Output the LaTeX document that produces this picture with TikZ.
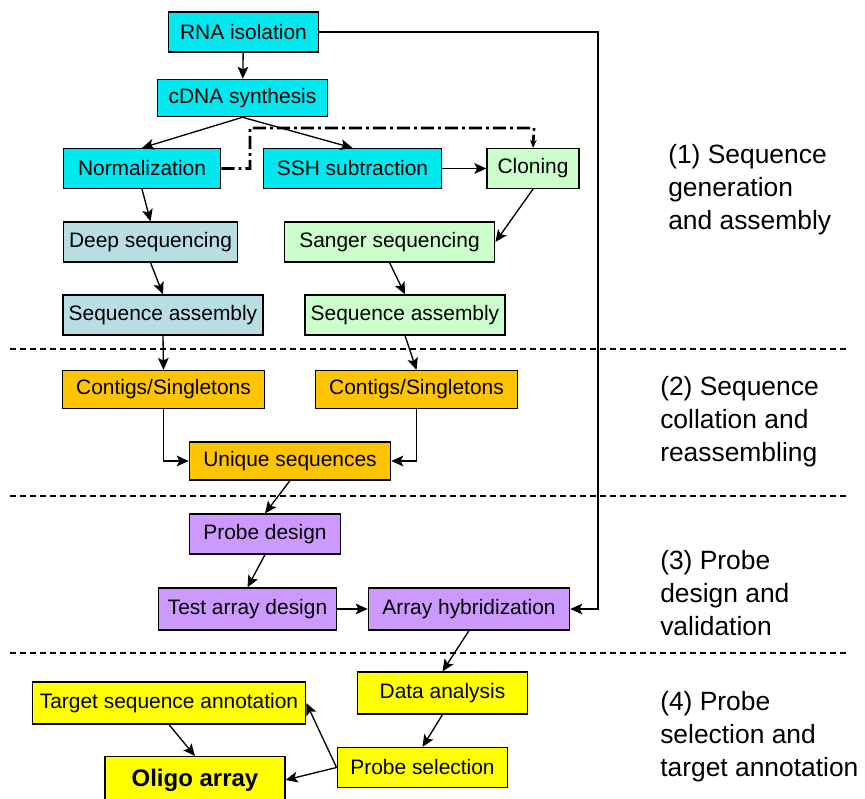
\documentclass[tikz,border=0pt]{standalone}
\usepackage{fontspec}
\setmainfont{Liberation Sans}
\usetikzlibrary{arrows.meta}

\definecolor{cyanbox}{HTML}{00E8F0}
\definecolor{greybox}{HTML}{B8DEE4}
\definecolor{greenbox}{HTML}{CCFFCC}
\definecolor{orangebox}{HTML}{FFC400}
\definecolor{purplebox}{HTML}{CC99FF}
\definecolor{yellowbox}{HTML}{FFFF00}

\tikzset{
	box/.style={draw, line width=0.9pt, inner sep=0pt, minimum height=30pt,
			font=\fontsize{15.7}{18}\selectfont},
	flow/.style={-{Stealth[length=9pt, width=8pt, inset=2pt]}, line width=1pt},
	stage/.style={anchor=west, align=left, inner sep=0pt,
			font=\fontsize{19.8}{24.8}\selectfont}
}

\begin{document}
\begin{tikzpicture}[x=0.75pt, y=-0.75pt]
		\useasboundingbox (0,0) rectangle (865,799);

		% Section separators
		\foreach \y in {349, 496, 653} {
				\draw[dash pattern=on 4.5pt off 3pt, line width=0.8pt] (10,\y) -- (848,\y);
			}

		% Stage 1: sequence generation
		\node[box, fill=cyanbox, minimum width=112pt] (rna) at (243.5,32) {RNA isolation};
		\node[box, fill=cyanbox, minimum width=127pt, minimum height=28pt] (cdna) at (242.5,98) {cDNA synthesis};
		\node[box, fill=cyanbox, minimum width=118pt] (norm) at (142,168.5) {Normalization};
		\node[box, fill=cyanbox, minimum width=134pt] (ssh) at (352.5,168.5) {SSH subtraction};
		\node[box, fill=greenbox, minimum width=69pt] (clon) at (533,168.5) {Cloning};
		\node[box, fill=greybox, minimum width=131pt] (deep) at (150.5,242) {Deep sequencing};
		\node[box, fill=greenbox, minimum width=158pt] (sang) at (389.5,242) {Sanger sequencing};
		\node[box, fill=greybox, minimum width=150pt] (asmL) at (163,315) {Sequence assembly};
		\node[box, fill=greenbox, minimum width=150pt] (asmR) at (405,315) {Sequence assembly};

		% Stage 2: collation
		\node[box, fill=orangebox, minimum width=151pt, minimum height=28.5pt] (conL) at (163.5,389.5) {Contigs/Singletons};
		\node[box, fill=orangebox, minimum width=151pt, minimum height=28.5pt] (conR) at (416.5,389.5) {Contigs/Singletons};
		\node[box, fill=orangebox, minimum width=151pt, minimum height=28.5pt] (uniq) at (290,461) {Unique sequences};

		% Stage 3: probe design
		\node[box, fill=purplebox, minimum width=113pt] (prob) at (265,534) {Probe design};
		\node[box, fill=purplebox, minimum width=134pt, minimum height=31.5pt] (test) at (247.5,609) {Test array design};
		\node[box, fill=purplebox, minimum width=151pt, minimum height=31.5pt] (hyb) at (469,609) {Array hybridization};

		% Stage 4: selection and annotation
		\node[box, fill=yellowbox, minimum width=127pt, minimum height=31.5pt] (data) at (442.5,693) {Data analysis};
		\node[box, fill=yellowbox, minimum width=205pt, minimum height=31.5pt] (targ) at (169,703) {Target sequence annotation};
		\node[box, fill=yellowbox, minimum width=128pt] (sel) at (422.5,767.5) {Probe selection};
		\node[box, fill=yellowbox, minimum width=135pt, minimum height=35pt,
			font=\fontsize{18}{21}\selectfont\bfseries] (olig) at (195,780) {Oligo array};

		% Stage labels
		\node[stage] (lab1) at (668,190) {(1) Sequence\\generation\\and assembly};
		\node[stage] (lab2) at (660,422) {(2) Sequence\\collation and\\reassembling};
		\node[stage] (lab3) at (660,593) {(3) Probe\\design and\\validation};
		\node[stage] (lab4) at (660,737) {(4) Probe\\selection and\\target annotation};

		% Connectors
		\draw[flow] (rna) -- (cdna);
		\draw[flow] (cdna.south) -- (norm.north);
		\draw[flow] (cdna.south) -- (ssh.north);
		\draw[flow] (ssh) -- (clon);
		\draw[flow] (norm.south) -- (deep.north);
		\draw[flow] (clon.south) -- (sang.east);
		\draw[flow] (deep.south) -- (asmL.north);
		\draw[flow] (sang.south) -- (asmR.north);
		\draw[flow] (asmL.south) -- (conL.north);
		\draw[flow] (asmR.south) -- (conR.north);
		\draw[flow] (conL.south) |- (uniq.west);
		\draw[flow] (conR.south) |- (uniq.east);
		\draw[flow] (uniq.south) -- (prob.north);
		\draw[flow] (prob.south) -- (test.north);
		\draw[flow] (test) -- (hyb);
		\draw[flow] (hyb.south) -- (data.north);
		\draw[flow] (data.south) -- (sel.north);
		\draw[flow] (sel.west) -- (targ.east);
		\draw[flow] (sel.west) -- (olig.east);
		\draw[flow] (targ.south) -- (olig.north);

		% RNA goes straight to hybridization
		\coordinate (turn) at (598,32);
		\draw[flow] (rna.east) -- (turn) |- (hyb.east);

		% Normalization feeding the cloning step
		\coordinate (dd1) at (250,168.5);
		\coordinate (dd2) at (250,128);
		\coordinate (dd3) at (534,128);
		\draw[-{Stealth[length=6pt, width=5pt]}, line width=2pt,
			dash pattern=on 10pt off 3pt on 2pt off 3pt]
		(norm.east) -- (dd1) -- (dd2) -- (dd3) -- (clon.north);
	\end{tikzpicture}
\end{document}
